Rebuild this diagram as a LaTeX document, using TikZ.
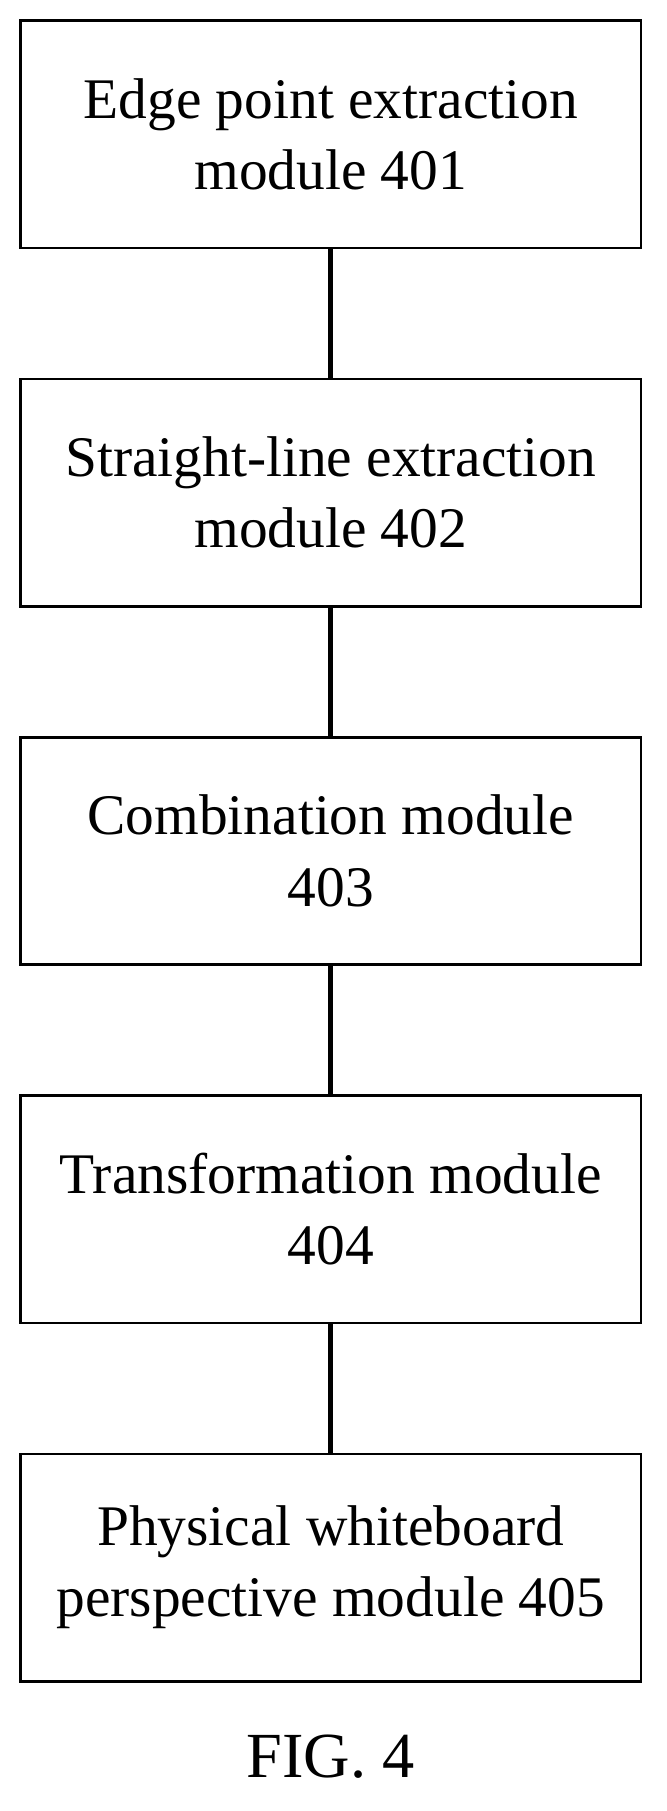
\documentclass[tikz,border=0pt]{standalone}
\usepackage{fontspec}
\setmainfont{Liberation Serif}
\tikzset{
  modbox/.style={draw, line width=1.1pt, minimum width=270pt, minimum height=99pt, align=center, font=\fontsize{25}{31}\selectfont},
  link/.style={line width=2pt}
}
\begin{document}
\begin{tikzpicture}[x=0.5pt,y=-0.5pt]
	\useasboundingbox (0,0) rectangle (580,1577);
	\node [modbox] at (288,117) (m1) {Edge point extraction\\module 401};
	\node [modbox] at (288,429) (m2) {Straight-line extraction\\module 402};
	\node [modbox] at (288,741) (m3) {Combination module\\403};
	\node [modbox] at (288,1053) (m4) {Transformation module\\404};
	\node [modbox] at (288,1365) (m5) {Physical whiteboard\\perspective module 405};
	\foreach \i/\j in {1/2, 2/3, 3/4, 4/5}
		\draw [link] (m\i) -- (m\j);
	\node [font=\fontsize{28}{30}\selectfont] at (288,1530) (fig) {FIG. 4};
\end{tikzpicture}
\end{document}
